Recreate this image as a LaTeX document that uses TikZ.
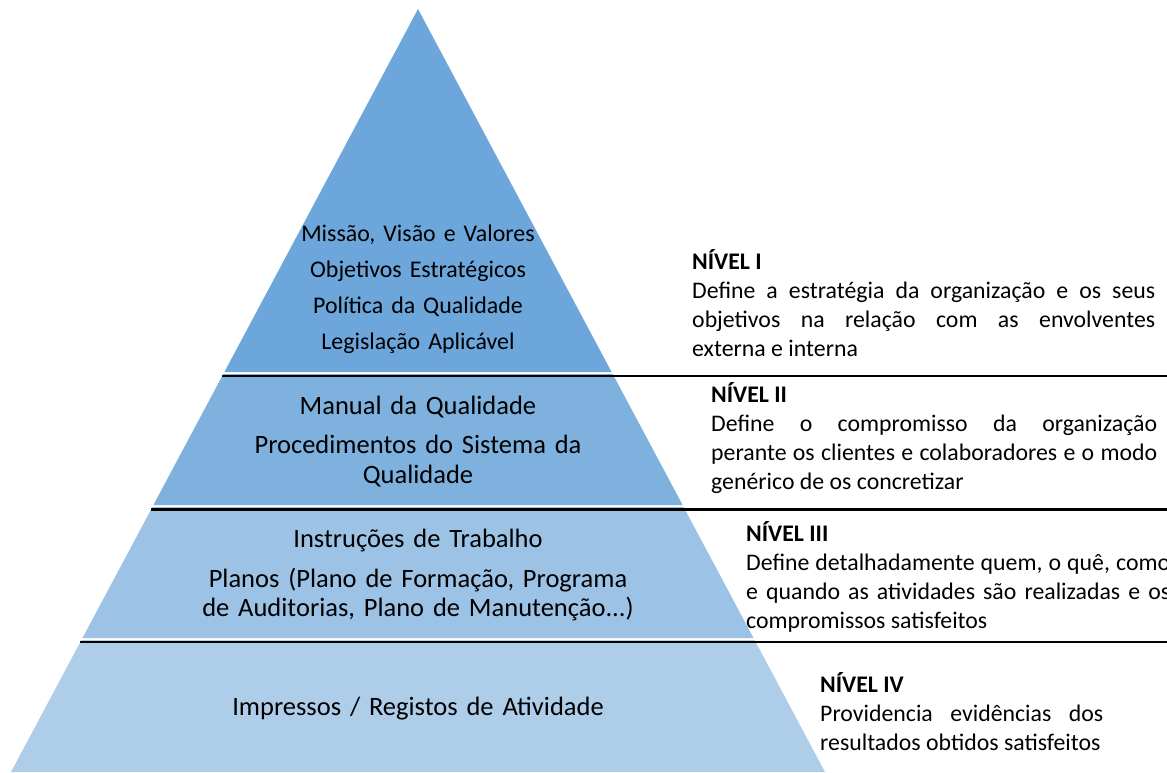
\documentclass[tikz,border=0pt]{standalone}
\usepackage{fontspec}
\setmainfont{Carlito}
\definecolor{layA}{HTML}{6CA6DA}
\definecolor{layB}{HTML}{7EB1DE}
\definecolor{layC}{HTML}{9CC2E5}
\definecolor{layD}{HTML}{AECDE9}
\tolerance=10000
\hyphenpenalty=10000
\begin{document}
\begin{tikzpicture}[x=1pt,y=-1pt,
  sep/.style={line width=2.6pt, draw=black},
  pyrtext/.style={inner sep=0pt, text width=520pt, align=center, anchor=base},
  desc/.style={inner sep=0pt, align=justify, anchor=base west,
    font=\fontsize{23.8}{29}\selectfont}
]
\useasboundingbox (0,0) rectangle (1167,772);
% pyramid layers
\fill[layA] (418,9) -- (611.6,372) -- (224.4,372) -- cycle;
\fill[layB] (223.3,374) -- (612.7,374) -- (682.6,505) -- (153.4,505) -- cycle;
\fill[layC] (152.4,507) -- (683.6,507) -- (753.5,638) -- (82.5,638) -- cycle;
\fill[layD] (81.4,640) -- (754.6,640) -- (825,772) -- (11,772) -- cycle;
% separator lines
\coordinate (s1a) at (222.2,376);
\coordinate (s1b) at (1167,376);
\coordinate (s2a) at (151.2,509.5);
\coordinate (s2b) at (1167,509.5);
\coordinate (s3a) at (80.4,642);
\coordinate (s3b) at (1167,642);
\draw[sep] (s1a) -- (s1b);
\draw[sep] (s2a) -- (s2b);
\draw[sep] (s3a) -- (s3b);
% pyramid texts
\node[pyrtext, font=\fontsize{23.9}{36.3}\selectfont] (t1) at (418,241)
  {Missão, Visão e Valores\\Objetivos Estratégicos\\Política da Qualidade\\Legislação Aplicável};
\node[pyrtext, font=\fontsize{26.5}{30}\selectfont] (t2) at (418,414.5)
  {Manual da Qualidade\\[9pt]Procedimentos do Sistema da\\Qualidade};
\node[pyrtext, font=\fontsize{26.5}{29}\selectfont] (t3) at (418,547.5)
  {Instruções de Trabalho\\[11pt]Planos (Plano de Formação, Programa\\de Auditorias, Plano de Manutenção...)};
\node[pyrtext, font=\fontsize{26.5}{30}\selectfont] (t4) at (418,715.5)
  {Impressos / Registos de Atividade};
% descriptions
\node[desc, text width=463pt] (d1) at (692,269)
  {\textbf{NÍVEL I}\\Define a estratégia da organização e os seus\linebreak objetivos na relação com as envolventes\linebreak externa e interna};
\node[desc, text width=446pt] (d2) at (711,402)
  {\textbf{NÍVEL II}\\Define o compromisso da organização\linebreak perante os clientes e colaboradores e o modo\linebreak genérico de os concretizar};
\node[desc, text width=424pt] (d3) at (746,541)
  {\textbf{NÍVEL III}\\Define detalhadamente quem, o quê, como\linebreak e quando as atividades são realizadas e os\linebreak compromissos satisfeitos};
\node[desc, text width=283pt] (d4) at (820,692)
  {\textbf{NÍVEL IV}\\Providencia evidências dos\linebreak resultados obtidos satisfeitos};
\end{tikzpicture}
\end{document}
